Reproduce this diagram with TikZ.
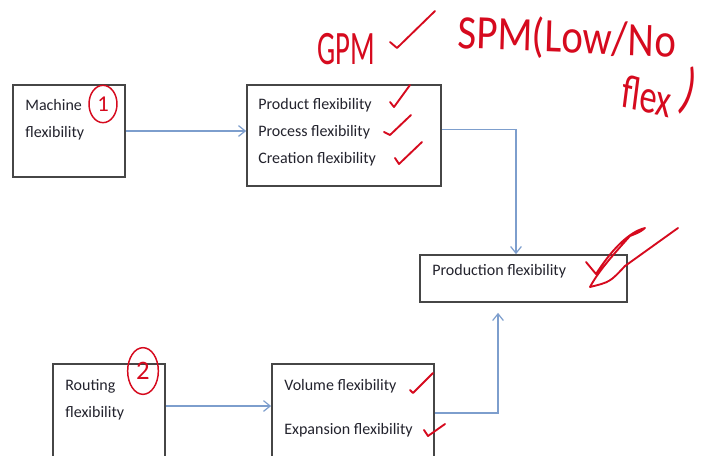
\documentclass[tikz,border=0pt]{standalone}
\usepackage{fontspec}
\setmainfont{Carlito}
\usetikzlibrary{arrows.meta,calc,shapes.geometric}
\definecolor{ink}{RGB}{35,35,45}
\definecolor{edge}{RGB}{70,70,70}
\definecolor{link}{RGB}{125,158,205}
\definecolor{pen}{RGB}{214,10,30}
\tikzset{
  every picture/.style={x=0.75pt, y=-0.75pt, line width=0.5pt},
  box/.style={draw=edge, line width=1.3pt, fill=white, inner sep=0pt},
  item/.style={anchor=west, inner sep=0pt, text=ink, font=\fontsize{12}{14}\selectfont},
  flow/.style={draw=link, line width=1.1pt, -{Straight Barb[length=5pt,width=8pt,line width=0.9pt]}},
  tick/.style={draw=pen, line width=1.4pt, line cap=round, line join=round},
  scrawl/.style={text=pen, inner sep=0pt, font=\fontsize{36}{36}\selectfont, transform shape},
  ring/.style={draw=pen, line width=1.1pt, ellipse, inner sep=0pt, text=pen},
}
\begin{document}
\begin{tikzpicture}
  \fill[white] (0,0) rectangle (701,455);
  \useasboundingbox (0,0) rectangle (701,455);

  % the five blocks
  \node[box, minimum width=84pt, minimum height=69pt] (mach) at (69,131) {};
  \node[box, minimum width=145.5pt, minimum height=75.75pt] (kind) at (344,135.5) {};
  \node[box, minimum width=155.25pt, minimum height=35.25pt] (prod) at (523.5,278.5) {};
  \node[box, minimum width=84pt, minimum height=73.5pt] (rout) at (109,413) {};
  \node[box, minimum width=121.5pt, minimum height=73.5pt] (scale) at (353,413) {};

  \node[item] (machA) at (25,105) {Machine};
  \node[item] (machB) at (25,133) {flexibility};
  \node[item] (kindA) at (258,105) {Product flexibility};
  \node[item] (kindB) at (258,132) {Process flexibility};
  \node[item] (kindC) at (258,159) {Creation flexibility};
  \node[item] (prodA) at (432,271) {Production flexibility};
  \node[item] (routA) at (65,386) {Routing};
  \node[item] (routB) at (65,413) {flexibility};
  \node[item] (scaleA) at (284,386) {Volume flexibility};
  \node[item] (scaleB) at (284,430) {Expansion flexibility};

  \draw[flow] (mach.east) -- (mach.east -| kind.west);
  \draw[flow] ($(kind.east)+(0,-6)$) -| ($(prod.north)+(-7.5,0)$);
  \draw[flow] ($(rout.east)+(0,-7)$) -- ($(scale.west)+(0,-7)$);
  \draw[flow, shorten >=7.5pt] (scale.east) -| ($(prod.south)+(-25.5,0)$);

  % pen notes
  \node[scrawl, xscale=0.6, anchor=base west] (gpm) at (317,64) {GPM};
  \node[scrawl, xscale=0.85, rotate=-2, anchor=base west] (spm) at (457,48) {SPM(Low/No};
  \node[scrawl, xscale=0.72, rotate=-10, anchor=base west] (flex) at (620,106) {flex};
  \node[scrawl, font=\fontsize{44}{44}\selectfont, xscale=0.7, rotate=-22] (close) at (689,92) {)};
  \node[ring, minimum width=21pt, minimum height=28pt, font=\fontsize{17}{17}\selectfont] (one) at (103,104) {1};
  \node[ring, minimum width=23pt, minimum height=35pt, font=\fontsize{20}{20}\selectfont] (two) at (143,371) {2};

  \draw[tick] (390,42) -- (397,48) -- (435,11);
  \draw[tick] (390,102) -- (394,107) -- (410,85);
  \draw[tick] (384,132) -- (390,135) -- (411,115);
  \draw[tick] (395,158) -- (399,164) -- (422,142);
  \draw[tick] (410,390) -- (413,393) -- (433,373);
  \draw[tick] (424,430) -- (428,436) -- (445,424);
  \draw[tick] (586,262) -- (596,274) .. controls (610,252) and (628,232) .. (645,228)
    .. controls (640,232) .. (630,236) .. controls (612,256) and (598,272) .. (590,287)
    .. controls (610,282) .. (625,266) -- (678,228);
\end{tikzpicture}
\end{document}
